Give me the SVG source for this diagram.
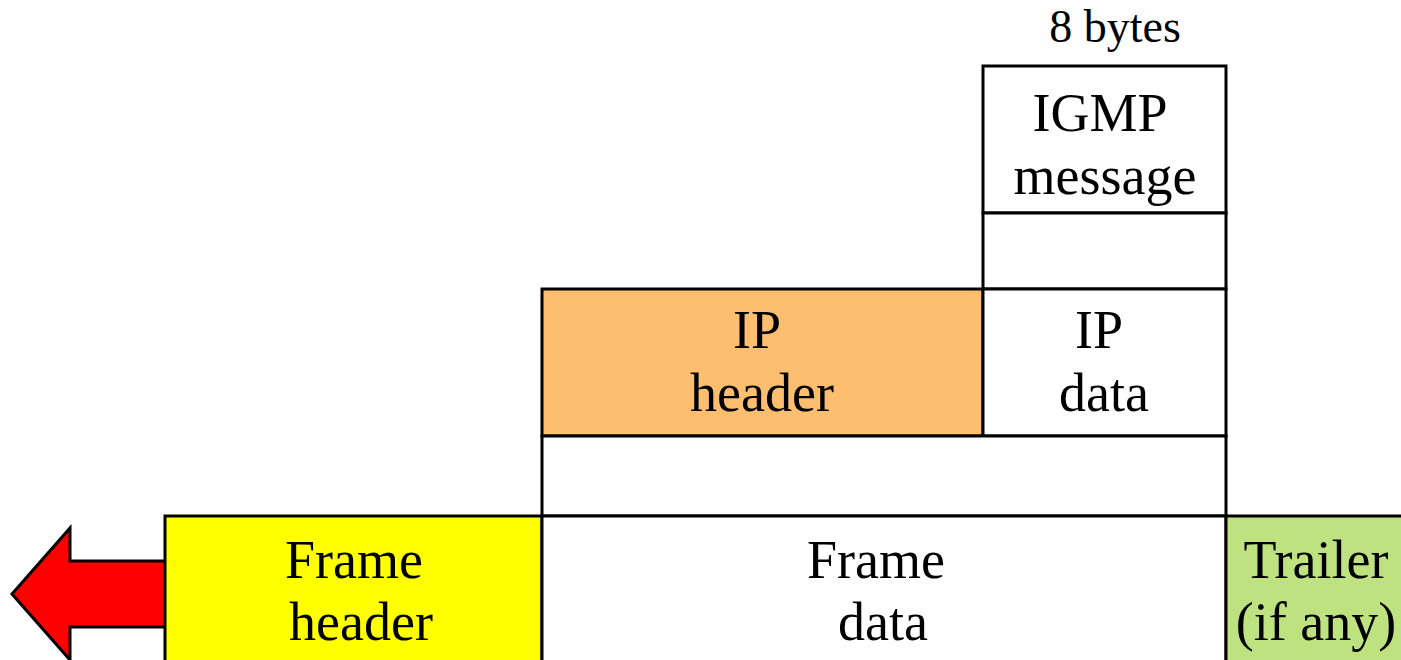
<svg xmlns="http://www.w3.org/2000/svg" width="1401" height="660" viewBox="0 0 1401 660">
<style>
.box{stroke:#000;stroke-width:3}
.t{font-family:"Liberation Serif","Times New Roman",serif;font-size:54px;fill:#000;text-anchor:middle}
.s{font-size:46px}
</style>
<rect width="1401" height="660" fill="#fff"/>
<g id="arrow">
<polygon class="box" fill="#ff0000" points="166,561 70,561 70,528 12,594 70,660 70,627 166,627"/>
</g>
<g id="size-label"><text class="t s" x="1115" y="42">8 bytes</text></g>
<g id="igmp-message">
<rect class="box" x="983" y="66" width="243" height="147" fill="#fff"/>
<text class="t" x="1100" y="131">IGMP</text>
<text class="t" x="1105" y="194">message</text>
</g>
<g id="igmp-gap"><rect class="box" x="983" y="213" width="243" height="76" fill="#fff"/></g>
<g id="ip-header">
<rect class="box" x="542" y="289" width="441" height="147" fill="#fdbf6f"/>
<text class="t" x="757" y="348">IP</text>
<text class="t" x="762" y="411">header</text>
</g>
<g id="ip-data">
<rect class="box" x="983" y="289" width="243" height="147" fill="#fff"/>
<text class="t" x="1099" y="348">IP</text>
<text class="t" x="1104" y="411">data</text>
</g>
<g id="ip-gap"><rect class="box" x="542" y="436" width="684" height="80" fill="#fff"/></g>
<g id="frame-header">
<rect class="box" x="165" y="516" width="377" height="150" fill="#ffff00"/>
<text class="t" x="354" y="578">Frame</text>
<text class="t" x="361" y="640">header</text>
</g>
<g id="frame-data">
<rect class="box" x="542" y="516" width="684" height="150" fill="#fff"/>
<text class="t" x="876" y="578">Frame</text>
<text class="t" x="883" y="640">data</text>
</g>
<g id="trailer">
<rect class="box" x="1226" y="516" width="190" height="150" fill="#bfe281"/>
<text class="t" x="1316" y="578">Trailer</text>
<text class="t" x="1316" y="640">(if any)</text>
</g>
<g id="connectors"></g>
</svg>
